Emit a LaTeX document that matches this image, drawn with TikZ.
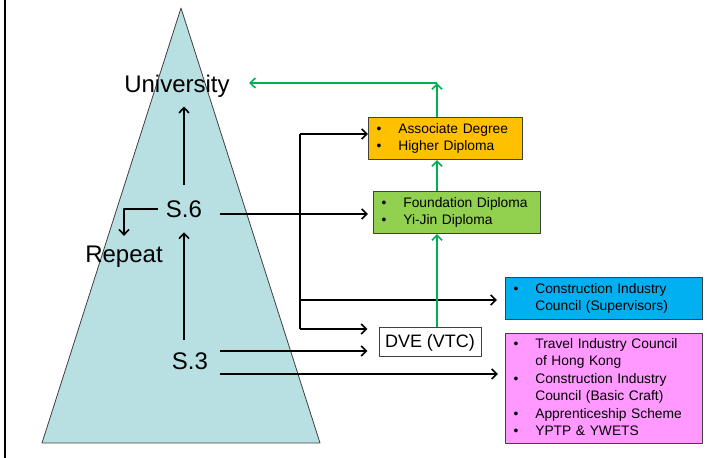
\documentclass[tikz,border=0pt]{standalone}
\usepackage{fontspec}
\setmainfont{Liberation Sans}
\usetikzlibrary{arrows.meta,positioning}
\definecolor{pyramid}{RGB}{184,223,226}
\definecolor{orgbox}{RGB}{255,192,0}
\definecolor{grnbox}{RGB}{146,208,80}
\definecolor{blubox}{RGB}{0,176,240}
\definecolor{pnkbox}{RGB}{255,153,255}
\definecolor{upgreen}{RGB}{0,176,80}
\definecolor{rim}{RGB}{64,64,64}
\newcommand\blist[1]{\begin{tabular}{@{}l@{\hspace{8.5pt}}l@{}}#1\end{tabular}}
\begin{document}
\begin{tikzpicture}[x=.5pt,y=-.5pt,>={Straight Barb[length=2.6pt,width=5pt]},line join=round,
level/.style={font=\fontsize{12}{14}\selectfont,inner sep=0pt},
route/.style={draw=rim,line width=.5pt,anchor=north west,inner xsep=4pt,inner ysep=0pt,
  minimum height=#1,align=left,font=\fontsize{6.9}{8.7}\selectfont},
black/.style={->,line width=.8pt},
up/.style={->,line width=.8pt,draw=upgreen}]
\useasboundingbox (0,0) rectangle (717,458);
\draw[line width=1.1pt] (5,0)--(5,458);
\draw[fill=pyramid,draw=rim,line width=.4pt] (181,8)--(42,443)--(320,443)--cycle;
\path
(300,134) coordinate (br1)
(300,300) coordinate (br2)
(300,329) coordinate (br3)
(220,214) coordinate (s6out)
(220,351) coordinate (s3hi)
(220,374) coordinate (s3lo)
(437,83) coordinate (top)
;
\node[level] (univ) at (177,86) {University};
\node[level] (s6) at (184,209) {S.6};
\node[level] (rep) at (124,257) {Repeat};
\node[level] (s3) at (190,361) {S.3};
\node[route=21pt,text width=69pt,fill=orgbox] (asc) at (368,117)
{\blist{\textbullet & Associate Degree\\ \textbullet & Higher Diploma}};
\node[route=21pt,text width=75.5pt,fill=grnbox] (fdn) at (373,191)
{\blist{\textbullet & Foundation Diploma\\ \textbullet & Yi-Jin Diploma}};
\node[route=21pt,text width=90.5pt,fill=blubox] (blu) at (505,277)
{\blist{\textbullet & Construction Industry\\ & Council (Supervisors)}};
\node[route=55pt,text width=90.5pt,fill=pnkbox] (pnk) at (505,333)
{\blist{\textbullet & Travel Industry Council\\ & of Hong Kong\\ \textbullet & Construction Industry\\
 & Council (Basic Craft)\\ \textbullet & Apprenticeship Scheme\\ \textbullet & YPTP \& YWETS}};
\node[draw=rim,line width=.5pt,fill=white,minimum width=51pt,minimum height=14.5pt,inner sep=0pt,
font=\fontsize{9}{11}\selectfont] (dve) at (430,342.5) {DVE (VTC)};
% inside the pyramid
\draw[black,shorten <=6pt,shorten >=7.2pt] (s6.south |- s3.north)--(s6.south);
\draw[black,shorten <=7.7pt,shorten >=4.5pt] (s6.north)--(s6.north |- univ.south);
\draw[black,shorten <=4pt,shorten >=5pt] (s6.west)-|(rep.north);
% out to the boxes
\draw[black,shorten >=2.5pt] (s6out)--(s6out -| fdn.west);
\draw[line width=.8pt] (br1)--(br3);
\draw[black] (br1)--(br1 -| asc.west);
\draw[black,shorten >=4pt] (br2)--(br2 -| blu.west);
\draw[black,shorten >=5.5pt] (br3)--(br3 -| dve.west);
\draw[black,shorten >=5.5pt] (s3hi)--(s3hi -| dve.west);
\draw[black,shorten >=3.5pt] (s3lo)--(s3lo -| pnk.west);
% green route up
\draw[up] (top |- dve.north)--(top |- fdn.south);
\draw[up] (top |- fdn.north)--(top |- asc.south);
\draw[up] (top |- asc.north)--(top);
\draw[up,shorten >=9.5pt] (top)--(top -| univ.east);
\end{tikzpicture}
\end{document}
